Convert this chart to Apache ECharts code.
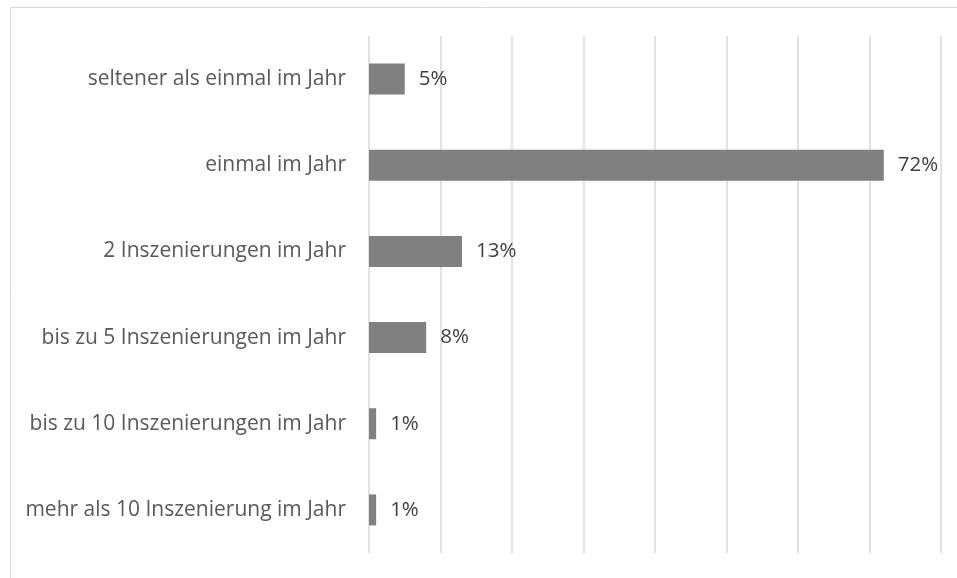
<!DOCTYPE html>
<html>
<head>
<meta charset="utf-8">
<script src="https://cdn.jsdelivr.net/npm/echarts@6/dist/echarts.min.js"></script>
<style>
  html, body { margin: 0; padding: 0; background: #ffffff; }
  #chart { width: 957px; height: 578px; }
</style>
</head>
<body>
<div id="chart"></div>
<script>
// Wie oft besucht: Anteile der Befragten je Häufigkeit
const categories = [
  'seltener als einmal im Jahr',
  'einmal im Jahr',
  '2 Inszenierungen im Jahr',
  'bis zu 5 Inszenierungen im Jahr',
  'bis zu 10 Inszenierungen im Jahr',
  'mehr als 10 Inszenierung im Jahr'
];
const shares = [5, 72, 13, 8, 1, 1];
const axisMax = 80;
const axisStep = 10;

const chart = echarts.init(document.getElementById('chart'), null, { renderer: 'canvas' });

const fontFamily = '"Open Sans", "Liberation Sans", sans-serif';

chart.setOption({
  animation: false,
  backgroundColor: '#ffffff',
  graphic: [
    {
      type: 'rect',
      shape: { x: 10.5, y: 7.5, width: 1000, height: 1000 },
      style: { fill: 'none', stroke: '#d9d9d9', lineWidth: 1 },
      silent: true
    }
  ],
  grid: { left: 369, right: 16, top: 36, bottom: 25, containLabel: false },
  xAxis: {
    type: 'value',
    min: 0,
    max: axisMax,
    interval: axisStep,
    axisLabel: { show: false },
    axisLine: { show: false },
    axisTick: { show: false },
    splitLine: { show: true, lineStyle: { color: '#d9d9d9', width: 1.5 } }
  },
  yAxis: {
    type: 'category',
    data: categories,
    inverse: true,
    axisLine: { show: false },
    axisTick: { show: false },
    axisLabel: {
      margin: 23,
      color: '#595959',
      fontSize: 21,
      fontFamily: fontFamily
    }
  },
  series: [
    {
      type: 'bar',
      data: shares,
      barWidth: '36%',
      itemStyle: { color: '#808080' },
      label: {
        show: true,
        position: 'right',
        distance: 14,
        formatter: p => p.value + '%',
        color: '#404040',
        fontSize: 20.5,
        fontFamily: fontFamily
      }
    }
  ]
});
</script>
</body>
</html>
